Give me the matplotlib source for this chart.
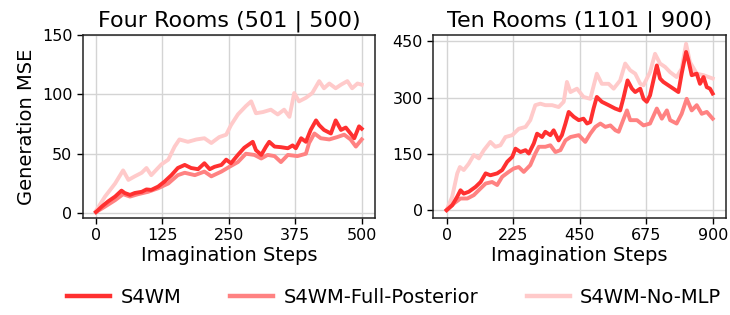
import matplotlib
matplotlib.use("Agg")
import matplotlib.pyplot as plt

# ---------------- data ----------------
series_names = ["S4WM", "S4WM-Full-Posterior", "S4WM-No-MLP"]
series_colors = ["#ff3030", "#ff8282", "#ffcaca"]

# Four Rooms (501 | 500)
four_s4wm_x = [0, 11, 23, 36, 48, 54, 64, 73, 86, 95, 104, 117, 129, 142, 154, 167, 179, 192, 204, 214,
               223, 236, 245, 254, 267, 279, 295, 301, 311, 320, 326, 336, 348, 361, 370, 376, 386, 395,
               404, 414, 420, 429, 442, 451, 461, 470, 479, 486, 495, 500]
four_s4wm_y = [1, 5.6, 10, 14, 19, 17, 15.4, 17, 18, 20, 19.6, 22.4, 26.6, 32, 38, 40.6, 38, 37, 42, 37,
               39, 40.6, 45, 42, 49, 55, 60, 53, 49, 56, 60, 56, 55.5, 54.6, 57, 54.6, 63, 60,
               70, 78, 74, 70, 67, 78, 70, 72, 67, 63, 73, 71]

four_full_x = [0, 17, 36, 51, 64, 79, 98, 117, 136, 154, 167, 186, 204, 217, 236, 251, 267, 282, 298, 311,
               323, 336, 348, 361, 379, 395, 401, 411, 423, 439, 454, 467, 479, 489, 500]
four_full_y = [1, 5.6, 11, 16, 14, 16, 18, 21, 25, 32, 34, 32, 35, 31, 35, 39, 43, 50, 49, 46,
               49, 48, 43, 49, 48, 50, 59, 67, 63, 62, 64, 66, 62, 56, 62]

four_nomlp_x = [0, 17, 36, 51, 61, 73, 86, 95, 104, 123, 136, 148, 157, 173, 189, 204, 217, 232, 245, 254,
                267, 282, 292, 301, 314, 329, 342, 354, 364, 373, 382, 395, 407, 420, 429, 439, 451, 461,
                473, 482, 492, 500]
four_nomlp_y = [2, 14, 25, 36, 28, 31, 34, 38, 32, 41, 45, 56, 62, 60, 62, 63, 59, 64, 66, 74,
                83, 90, 94, 84, 85, 87, 83, 87, 81, 101, 94, 97, 101, 111, 105, 109, 105, 108,
                111, 105, 109, 108]

# Ten Rooms (1101 | 900)
ten_s4wm_x = [0, 19, 36, 47, 58, 75, 98, 115, 132, 148, 171, 188, 205, 222, 233, 250, 267, 278, 295, 306,
              323, 334, 351, 362, 379, 390, 402, 413, 430, 447, 463, 475, 486, 497, 508, 525, 548, 570,
              587, 599, 612, 627, 638, 655, 666, 677, 688, 702, 711, 722, 733, 750, 767, 784, 795, 810,
              818, 829, 846, 857, 869, 880, 891, 900]
ten_s4wm_y = [0, 13, 36, 53, 44, 49, 62, 75, 98, 93, 98, 107, 129, 142, 164, 155, 160, 151, 178, 204,
              195, 209, 200, 213, 186, 200, 231, 262, 249, 240, 244, 231, 235, 271, 302, 289, 280, 271,
              266, 302, 346, 324, 315, 324, 297, 289, 306, 355, 386, 351, 342, 333, 324, 315, 364, 422,
              399, 360, 364, 337, 355, 328, 324, 311]

ten_full_x = [0, 25, 47, 70, 92, 115, 132, 154, 171, 188, 210, 227, 244, 261, 283, 300, 312, 334, 351, 368,
              385, 402, 419, 447, 469, 486, 503, 520, 537, 554, 571, 582, 599, 610, 621, 644, 666, 688,
              711, 728, 745, 756, 778, 795, 812, 829, 846, 863, 880, 900]
ten_full_y = [0, 18, 31, 31, 40, 58, 71, 75, 67, 89, 102, 111, 115, 102, 120, 151, 169, 169, 173, 155,
              160, 186, 195, 200, 182, 204, 222, 231, 222, 226, 213, 209, 244, 266, 240, 240, 226, 231,
              271, 244, 266, 240, 231, 257, 297, 266, 280, 257, 262, 244]

ten_nomlp_x = [0, 19, 36, 45, 58, 75, 92, 109, 126, 148, 165, 182, 199, 222, 244, 267, 283, 300, 317, 334,
               357, 379, 396, 407, 419, 441, 463, 486, 508, 525, 548, 565, 587, 604, 621, 638, 655, 666,
               688, 705, 722, 739, 756, 778, 795, 810, 823, 846, 869, 900]
ten_nomlp_y = [0, 36, 98, 115, 107, 124, 147, 138, 160, 182, 169, 173, 195, 200, 217, 222, 240, 280, 284, 280,
               280, 275, 289, 342, 315, 324, 302, 297, 364, 337, 337, 324, 346, 391, 373, 364, 337, 333,
               368, 417, 391, 382, 368, 355, 377, 444, 395, 364, 360, 351]

panel_titles = ["Four Rooms (501 | 500)", "Ten Rooms (1101 | 900)"]
panel_xticks = [[0, 125, 250, 375, 500], [0, 225, 450, 675, 900]]
panel_yticks = [[0, 50, 100, 150], [0, 150, 300, 450]]

panels = [
    [(four_s4wm_x, four_s4wm_y), (four_full_x, four_full_y), (four_nomlp_x, four_nomlp_y)],
    [(ten_s4wm_x, ten_s4wm_y), (ten_full_x, ten_full_y), (ten_nomlp_x, ten_nomlp_y)],
]

# ---------------- figure ----------------
plt.rcParams["font.family"] = ["DejaVu Sans"]
fig = plt.figure(figsize=(7.3, 3.15), dpi=100)
W, H = 730.0, 315.0
ax_rects = [
    (82.7 / W, 1 - 218.0 / H, (375.0 - 82.7) / W, (218.0 - 34.7) / H),
    (433.3 / W, 1 - 218.0 / H, (726.0 - 433.3) / W, (218.0 - 34.7) / H),
]
xlims = [(-25, 525), (-45, 945)]
ylims = [(-4, 150), (-21, 468)]

for i in range(2):
    ax = fig.add_axes(ax_rects[i])
    for j, (xs, ys) in enumerate(panels[i]):
        ax.plot(xs, ys, color=series_colors[j], lw=2.8, zorder=5 - j,
                label=series_names[j], solid_joinstyle="round")
    ax.set_title(panel_titles[i], fontsize=16, pad=6)
    ax.set_xticks(panel_xticks[i])
    ax.set_yticks(panel_yticks[i])
    ax.set_xlim(*xlims[i])
    ax.set_ylim(*ylims[i])
    ax.tick_params(labelsize=11.5, length=4, width=1)
    ax.grid(True, color="#d4d4d4", lw=1.0, zorder=0)
    ax.set_axisbelow(True)
    for sp in ax.spines.values():
        sp.set_linewidth(1.1)
        sp.set_color("#222222")
    ax.set_xlabel("Imagination Steps", fontsize=14, labelpad=2)
    if i == 0:
        ax.set_ylabel("Generation MSE", fontsize=14)
        handles, labels = ax.get_legend_handles_labels()

leg = fig.legend(handles, labels, loc="center", bbox_to_anchor=(0.54, 0.057), ncol=3,
                 frameon=False, fontsize=14, handlelength=2.2, handletextpad=0.55,
                 columnspacing=2.5)
for line in leg.get_lines():
    line.set_linewidth(3.2)

fig.savefig("out.png", dpi=100)
